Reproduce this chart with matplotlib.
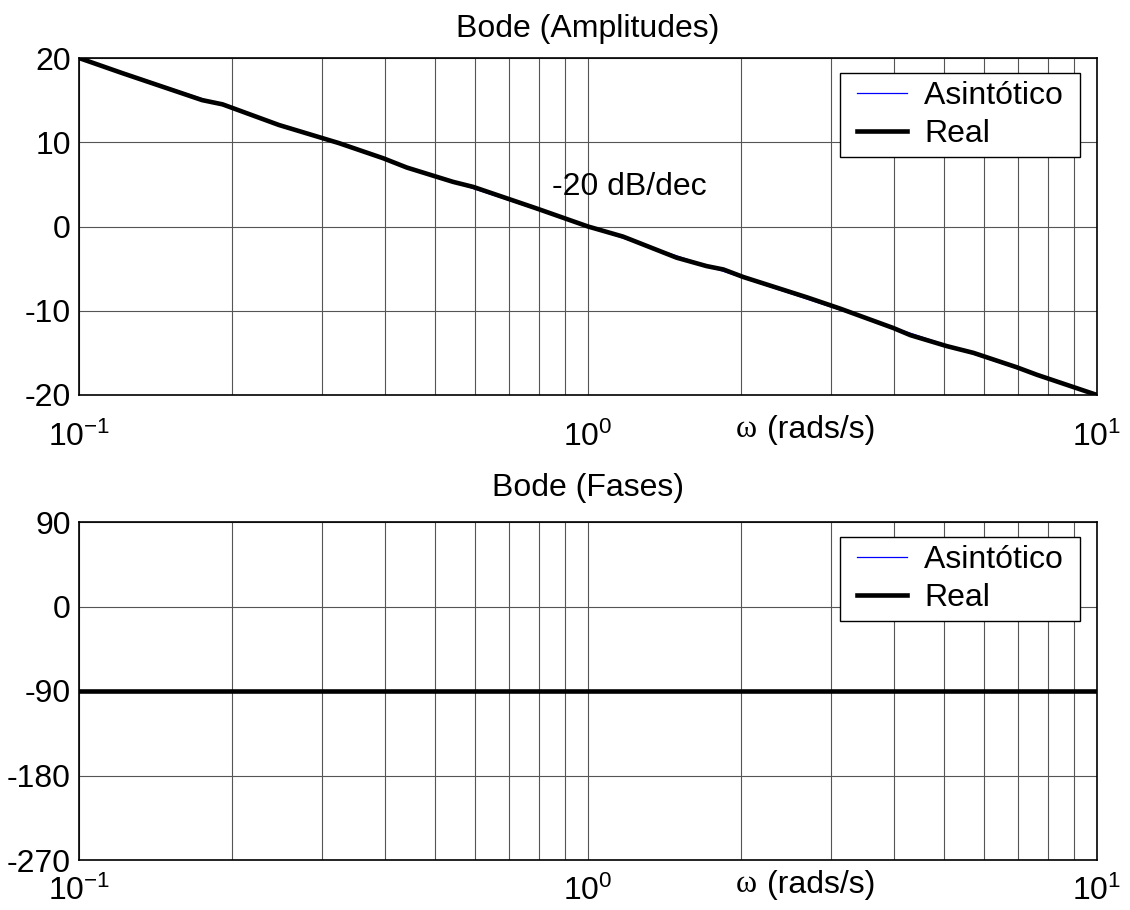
import matplotlib
matplotlib.use("Agg")
import matplotlib.pyplot as plt
from matplotlib.lines import Line2D
from matplotlib.legend_handler import HandlerLine2D
from matplotlib.ticker import FixedLocator, FixedFormatter

plt.rcParams['font.family'] = ['Liberation Sans', 'DejaVu Sans']
plt.rcParams['mathtext.fontset'] = 'custom'
plt.rcParams['mathtext.rm'] = 'Liberation Sans'
plt.rcParams['mathtext.it'] = 'Liberation Sans'
plt.rcParams['mathtext.bf'] = 'Liberation Sans'

FS = 23

# Magnitude response (dB) sampled along the frequency axis
w_mag = [0.1, 0.1217, 0.1746, 0.1914, 0.247, 0.324, 0.396, 0.4405, 0.543, 0.595,
         0.792, 1.0, 1.172, 1.493, 1.71, 1.845, 2.02, 2.69, 3.13, 3.98, 4.3,
         5.07, 5.72, 6.95, 7.62, 10.0]
mag_db = [20.0, 18.2, 15.0, 14.5, 12.05, 9.9, 8.1, 7.0, 5.3, 4.7,
          2.15, 0.0, -1.2, -3.7, -4.7, -5.1, -6.0, -8.4, -9.75, -12.05, -12.9,
          -14.2, -15.0, -16.7, -17.6, -20.0]

# Asymptotic magnitude
w_asym = [0.1, 10.0]
mag_asym = [20.0, -20.0]

# Phase (degrees)
w_phase = [0.1, 10.0]
phase_real = [-90.0, -90.0]
phase_asym = [-90.0, -90.0]

mag_ticks = [-20, -10, 0, 10, 20]
phase_ticks = [-270, -180, -90, 0, 90]
x_ticks = [0.1, 1.0, 10.0]
x_ticklabels = [r'$10^{-1}$', r'$10^{0}$', r'$10^{1}$']

fig = plt.figure(figsize=(11.3, 9.1), dpi=100)
ax1 = fig.add_axes([79 / 1130, 1 - 395 / 910, 1018 / 1130, 337 / 910])
ax2 = fig.add_axes([79 / 1130, 1 - 860 / 910, 1018 / 1130, 338 / 910])


def style_axes(ax, yticks, title, title_pad, xpad, label_off):
    ax.set_xscale('log')
    ax.set_xlim(0.1, 10)
    ax.set_ylim(yticks[0], yticks[-1])
    ax.xaxis.set_major_locator(FixedLocator(x_ticks))
    ax.xaxis.set_major_formatter(FixedFormatter(x_ticklabels))
    ax.set_yticks(yticks)
    ax.set_yticklabels([str(t) for t in yticks])
    ax.grid(True, which='both', color='#555555', linewidth=0.8, linestyle='-')
    ax.tick_params(axis='both', which='both', length=0, labelsize=FS)
    ax.tick_params(axis='x', pad=xpad)
    ax.tick_params(axis='y', pad=6)
    for sp in ax.spines.values():
        sp.set_linewidth(1.2)
        sp.set_color('black')
    ax.set_title(title, fontsize=FS, pad=title_pad)
    ax.set_axisbelow(True)
    # frequency label placed on the tick-label row
    ax.annotate('\u03c9', xy=(0.666, 0), xycoords='axes fraction',
                xytext=(0, label_off), textcoords='offset points',
                ha='right', va='center', fontsize=FS,
                family=['Liberation Serif', 'DejaVu Serif'])
    ax.annotate('(rads/s)', xy=(0.676, 0), xycoords='axes fraction',
                xytext=(0, label_off), textcoords='offset points',
                ha='left', va='center', fontsize=FS)


style_axes(ax1, mag_ticks, 'Bode (Amplitudes)', 15, 19, -25)
ax1.plot(w_asym, mag_asym, color='#0000ff', linewidth=0.9, label='Asint\u00f3tico ')
ax1.plot(w_mag, mag_db, color='black', linewidth=3.3, label='Real')
ax1.text(0.85, 4.7, '-20 dB/dec', fontsize=FS, ha='left', va='center')

style_axes(ax2, phase_ticks, 'Bode (Fases)', 19, 11, -18)
ax2.plot(w_phase, phase_asym, color='#0000ff', linewidth=0.9, label='Asint\u00f3tico ')
ax2.plot(w_phase, phase_real, color='black', linewidth=3.3, label='Real')

for ax in (ax1, ax2):
    leg = ax.legend(loc='upper right', bbox_to_anchor=(0.9833, 0.9555),
                    borderaxespad=0, fontsize=FS, handlelength=1.85,
                    handletextpad=0.55, labelspacing=0.25, borderpad=0.25,
                    fancybox=False, framealpha=1, edgecolor='black',
                    handler_map={Line2D: HandlerLine2D(xpad=0.28)})
    leg.get_frame().set_linewidth(1.0)

fig.savefig('out.png', dpi=100, facecolor='white')
